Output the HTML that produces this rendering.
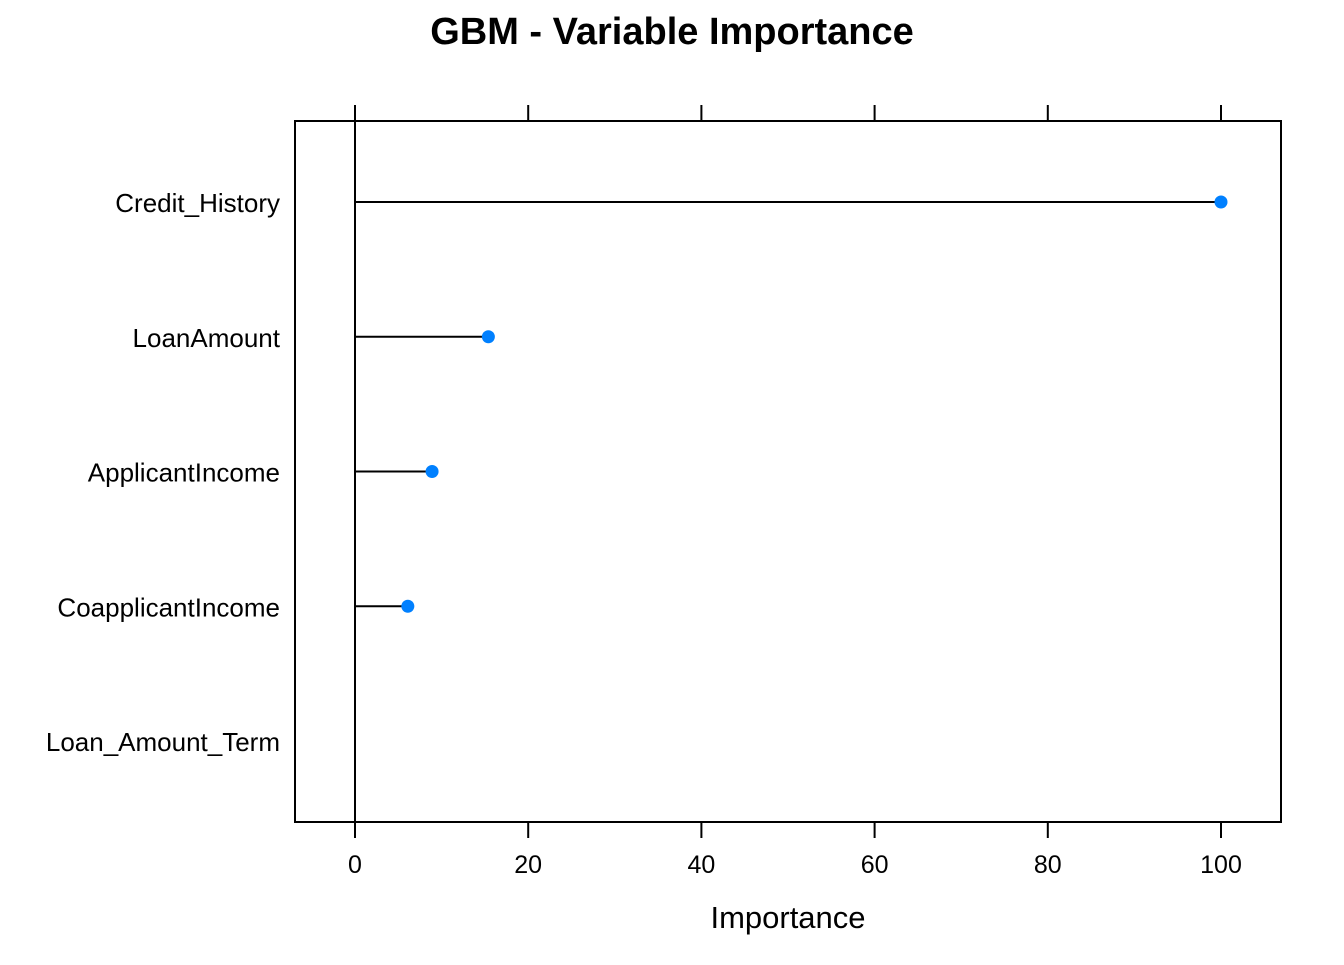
<!DOCTYPE html>
<html><head><meta charset="utf-8"><style>
html,body{margin:0;padding:0;background:#fff;}
svg text{font-family:"Liberation Sans",Arial,sans-serif;}
</style></head><body>
<svg id="chart" width="1344" height="960">
<text x="672" y="44" text-anchor="middle" font-size="38" font-weight="bold">GBM - Variable Importance</text>
<rect x="295" y="121" width="986" height="701" fill="none" stroke="#000" stroke-width="2"/>
<g id="g"></g>
<text x="788" y="928" text-anchor="middle" font-size="31">Importance</text>
</svg>
<script>
const categories=["Credit_History","LoanAmount","ApplicantIncome","CoapplicantIncome","Loan_Amount_Term"];
const values=[100,15.4,8.9,6.1,null];
const ticks=[0,20,40,60,80,100];
const ns="http://www.w3.org/2000/svg";
const g=document.getElementById("g");
function x(v){return 355+v*8.66;}
function y(i){return 202+i*134.75;}
function mk(t,a){const e=document.createElementNS(ns,t);for(const k in a)e.setAttribute(k,a[k]);g.appendChild(e);return e;}
ticks.forEach(t=>{
 let e=mk("line",{x1:x(t),x2:x(t),y1:105,y2:121,stroke:"#000","stroke-width":2});
 
 
 e=mk("line",{x1:x(t),x2:x(t),y1:822,y2:838,stroke:"#000","stroke-width":2});
 
 
 e=mk("text",{x:x(t),y:873,"text-anchor":"middle","font-size":25});
 e.textContent=t;
 
 
});
let zl=mk("line",{x1:x(0),x2:x(0),y1:121,y2:822,stroke:"#000","stroke-width":2});


categories.forEach((c,i)=>{
 let e=mk("text",{x:280,y:y(i)+10,"text-anchor":"end","font-size":26});
 e.textContent=c;
 
 
 const v=values[i];
 if(v==null)return;
 e=mk("line",{x1:x(0),x2:x(v),y1:y(i),y2:y(i),stroke:"#000","stroke-width":2});
 
 
 e=mk("circle",{cx:x(v),cy:y(i),r:6.5,fill:"#0080ff"});
 
 
});
</script>
</body></html>
